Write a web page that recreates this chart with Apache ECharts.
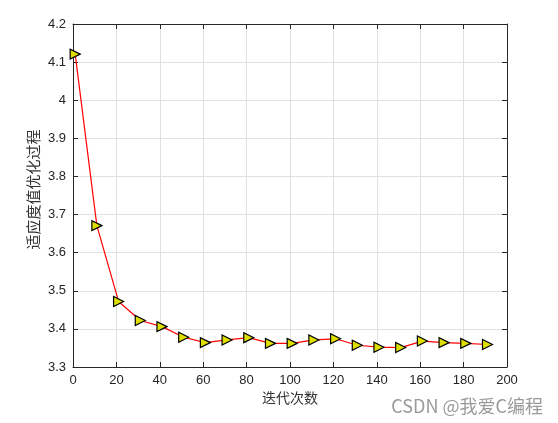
<!DOCTYPE html>
<html>
<head>
<meta charset="utf-8">
<script src="https://cdn.jsdelivr.net/npm/echarts@6/dist/echarts.min.js"></script>
<style>
html,body{margin:0;padding:0;background:#fff;}
#c{width:558px;height:423px;}
</style>
</head>
<body>
<div id="c"></div>
<script>
var iterations = [1, 11, 21, 31, 41, 51, 61, 71, 81, 91, 101, 111, 121, 131, 141, 151, 161, 171, 181, 191];
var fitness = [4.121, 3.671, 3.472, 3.422, 3.406, 3.378, 3.364, 3.371, 3.377, 3.362, 3.362, 3.371, 3.374, 3.357, 3.352, 3.351, 3.368, 3.364, 3.362, 3.359];
var xTitle = '迭代次数';
var yTitle = '适应度值优化过程';
var watermark = 'CSDN @我爱C编程';

var chart = echarts.init(document.getElementById('c'), null, {renderer: 'canvas'});
var fontLatin = '"Liberation Sans", Arial, "Noto Sans CJK SC", sans-serif';
var fontCJK = '"Noto Sans CJK SC", sans-serif';
var axisColor = '#262626';
var gridColor = '#e0e0e0';

function fmt(v) { return String(+v.toFixed(1)); }

var data = iterations.map(function (x, i) { return [x, fitness[i]]; });

chart.setOption({
  backgroundColor: '#ffffff',
  animation: false,
  grid: {left: 73, right: 51, top: 24, bottom: 56, containLabel: false},
  xAxis: [{
    type: 'value', min: 0, max: 200, interval: 20, position: 'bottom',
    name: xTitle, nameLocation: 'middle', nameGap: 24, nameMoveOverlap: false,
    nameTextStyle: {fontFamily: fontCJK, fontSize: 14, color: '#333333'},
    axisLine: {show: true, lineStyle: {color: axisColor, width: 1}},
    axisTick: {show: true, inside: true, length: 5, lineStyle: {color: axisColor}},
    axisLabel: {color: axisColor, fontFamily: fontLatin, fontSize: 13, margin: 7, formatter: function (v) { return String(v); }},
    splitLine: {show: true, lineStyle: {color: gridColor, width: 1}}
  }, {
    type: 'value', min: 0, max: 200, interval: 20, position: 'top',
    axisLine: {show: true, onZero: false, lineStyle: {color: axisColor, width: 1}},
    axisTick: {show: true, inside: true, length: 5, lineStyle: {color: axisColor}},
    axisLabel: {show: false},
    splitLine: {show: false}
  }],
  yAxis: [{
    type: 'value', min: 3.3, max: 4.2, interval: 0.1, position: 'left',
    name: yTitle, nameLocation: 'middle', nameGap: 32, nameMoveOverlap: false,
    nameTextStyle: {fontFamily: fontCJK, fontSize: 15, color: '#333333', padding: [0, 0, 0, 12]},
    axisLine: {show: true, onZero: false, lineStyle: {color: axisColor, width: 1}},
    axisTick: {show: true, inside: true, length: 5, lineStyle: {color: axisColor}},
    axisLabel: {color: axisColor, fontFamily: fontLatin, fontSize: 13, margin: 7, formatter: fmt},
    splitLine: {show: true, lineStyle: {color: gridColor, width: 1}}
  }, {
    type: 'value', min: 3.3, max: 4.2, interval: 0.1, position: 'right',
    axisLine: {show: true, onZero: false, lineStyle: {color: axisColor, width: 1}},
    axisTick: {show: true, inside: true, length: 5, lineStyle: {color: axisColor}},
    axisLabel: {show: false},
    splitLine: {show: false}
  }],
  series: [{
    type: 'line',
    xAxisIndex: 0, yAxisIndex: 0,
    data: data,
    lineStyle: {color: '#ff0000', width: 1.2},
    symbol: 'triangle', symbolRotate: -90, symbolSize: 10,
    itemStyle: {color: '#e0e000', borderColor: '#000000', borderWidth: 1.2},
    showAllSymbol: true
  }],
  graphic: [{
    type: 'text', right: 15, top: 397,
    style: {text: watermark, fill: '#9a9a9a', font: '18px ' + fontCJK}
  }]
});
</script>
</body>
</html>
